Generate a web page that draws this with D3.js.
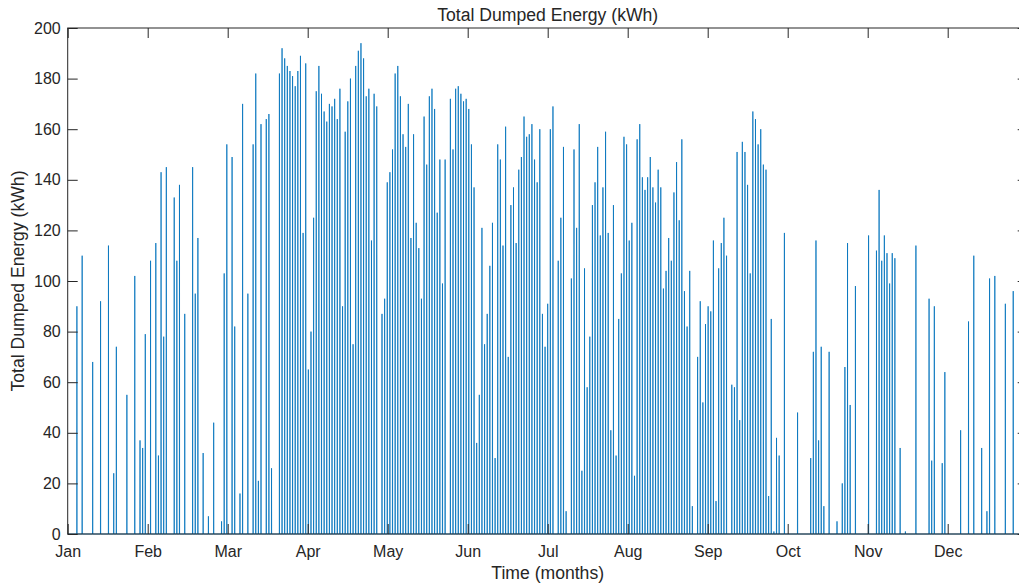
<!DOCTYPE html>
<html>
<head>
<meta charset="utf-8">
<script src="https://cdn.jsdelivr.net/npm/d3@7"></script>
<style>
    body { margin: 0; background: #fff; }
    svg { display: block; font-family: "Liberation Sans", Arial, sans-serif; }
</style>
</head>
<body>
<div id="chart"></div>
<script>
// day of year (0-based) on which energy was dumped, and the peak of that day (kWh)
const dumpDays = [
    3, 5, 9, 12, 15, 17, 18, 22, 25, 27, 28, 29, 31, 33, 34, 35, 36, 37, 40, 41,
    42, 44, 47, 48, 49, 51, 53, 55, 58, 59, 60, 62, 63, 65, 66, 68, 70, 71, 72, 73,
    75, 76, 77, 80, 81, 82, 83, 84, 85, 86, 87, 88, 89, 90, 91, 92, 93, 94, 95, 96,
    97, 98, 99, 100, 101, 102, 103, 104, 105, 106, 107, 108, 109, 110, 111, 112, 113, 114, 115, 116,
    117, 119, 120, 121, 122, 123, 124, 125, 126, 127, 128, 129, 130, 131, 132, 133, 134, 135, 136, 137,
    138, 139, 140, 141, 142, 143, 145, 146, 147, 148, 149, 150, 151, 152, 153, 154, 155, 156, 157, 158,
    159, 160, 161, 162, 163, 164, 165, 166, 167, 168, 169, 170, 171, 172, 173, 174, 175, 176, 177, 178,
    179, 180, 181, 182, 183, 184, 186, 187, 188, 189, 191, 192, 193, 194, 195, 196, 197, 198, 199, 200,
    201, 202, 203, 204, 205, 206, 207, 208, 209, 210, 211, 212, 213, 214, 215, 216, 217, 218, 219, 220,
    221, 222, 223, 224, 225, 226, 227, 228, 229, 230, 231, 232, 233, 234, 235, 236, 237, 239, 240, 241,
    242, 243, 244, 245, 246, 247, 248, 249, 250, 252, 253, 254, 255, 256, 257, 258, 259, 260, 261, 262,
    263, 264, 265, 266, 267, 268, 269, 270, 272, 277, 282, 283, 284, 285, 286, 287, 289, 292, 294, 295,
    296, 297, 299, 304, 307, 308, 309, 310, 311, 312, 313, 314, 316, 318, 322, 327, 328, 329, 332, 333,
    339, 342, 344, 347, 349, 350, 352, 356, 359
];
const dumpPeaks = [
    90, 110, 68, 92, 114, 24, 74, 55, 102, 37, 34, 79, 108, 115, 31, 143, 78, 145, 133, 108,
    138, 87, 145, 95, 117, 32, 7, 44, 5, 103, 154, 149, 82, 16, 170, 95, 154, 182, 21, 162,
    164, 166, 26, 182, 192, 188, 185, 183, 181, 177, 183, 189, 119, 186, 65, 80, 125, 175, 185, 174,
    167, 163, 170, 169, 172, 164, 176, 90, 159, 171, 180, 75, 185, 191, 194, 188, 173, 176, 116, 174,
    169, 87, 93, 139, 143, 152, 182, 185, 173, 158, 153, 170, 117, 158, 123, 113, 93, 165, 146, 173,
    176, 168, 127, 148, 99, 148, 172, 152, 176, 177, 174, 171, 172, 168, 154, 137, 36, 55, 121, 75,
    87, 106, 123, 30, 154, 148, 114, 161, 70, 130, 137, 115, 144, 149, 165, 157, 158, 162, 148, 139,
    160, 87, 74, 91, 160, 169, 108, 125, 153, 9, 101, 152, 121, 162, 25, 105, 58, 78, 130, 139,
    153, 118, 137, 159, 119, 41, 130, 31, 85, 103, 157, 154, 116, 123, 23, 156, 162, 141, 136, 141,
    149, 137, 131, 144, 137, 97, 104, 117, 108, 135, 147, 124, 156, 96, 82, 104, 11, 70, 92, 52,
    83, 90, 88, 116, 13, 105, 115, 125, 110, 59, 58, 151, 45, 155, 151, 138, 103, 167, 164, 154,
    160, 146, 144, 15, 85, 1, 38, 31, 119, 48, 30, 72, 116, 37, 74, 11, 72, 5, 20, 66,
    115, 51, 98, 118, 112, 136, 108, 118, 111, 99, 111, 109, 34, 1, 114, 93, 29, 90, 28, 64,
    41, 84, 110, 34, 9, 101, 102, 91, 96
];
const monthLabels = ['Jan', 'Feb', 'Mar', 'Apr', 'May', 'Jun', 'Jul', 'Aug', 'Sep', 'Oct', 'Nov', 'Dec'];
const yTicks = [0, 20, 40, 60, 80, 100, 120, 140, 160, 180, 200];
const hoursInYear = 8760;

const width = 1019;
const height = 588;
// plot box; the right edge runs just past the page, as in the original figure
const plotLeft = 67.7, plotRight = 1027.7, plotTop = 28, plotBottom = 534;
const ink = '#262626';

const svg = d3.select('#chart')
    .append('svg')
    .attr('width', width)
    .attr('height', height);

const x = d3.scaleLinear().domain([0, hoursInYear]).range([plotLeft, plotRight]);
const y = d3.scaleLinear().domain([0, 200]).range([plotBottom, plotTop]);

// month ticks sit every twelfth of the year
const xTicks = monthLabels.map((m, i) => i * hoursInYear / 12);

// hourly series: zero except a narrow peak around midday of each dump day
const points = [[0, 0]];
dumpDays.forEach((d, i) => {
    const mid = d * 24 + 12;
    points.push([mid - 1, 0], [mid, dumpPeaks[i]], [mid + 1, 0]);
});
points.push([hoursInYear, 0]);

svg.append('path')
    .datum(points)
    .attr('fill', 'none')
    .attr('stroke', '#0072BD')
    .attr('stroke-width', 0.8)
    .attr('d', d3.line().x(p => x(p[0])).y(p => y(p[1])));

// box
svg.append('rect')
    .attr('x', plotLeft).attr('y', plotTop)
    .attr('width', plotRight - plotLeft).attr('height', plotBottom - plotTop)
    .attr('fill', 'none').attr('stroke', ink).attr('stroke-width', 1);

// axes with inward ticks
const yAxis = svg.append('g')
    .attr('transform', `translate(${plotLeft},0)`)
    .call(d3.axisLeft(y).tickValues(yTicks).tickSizeInner(-10).tickSizeOuter(0).tickPadding(7));
const xAxis = svg.append('g')
    .attr('transform', `translate(0,${plotBottom})`)
    .call(d3.axisBottom(x).tickValues(xTicks).tickFormat((d, i) => monthLabels[i])
        .tickSizeInner(-10).tickSizeOuter(0).tickPadding(12));
const xTop = svg.append('g')
    .attr('transform', `translate(0,${plotTop})`)
    .call(d3.axisTop(x).tickValues(xTicks).tickFormat('').tickSizeInner(-10).tickSizeOuter(0));
const yRight = svg.append('g')
    .attr('transform', `translate(${plotRight},0)`)
    .call(d3.axisRight(y).tickValues(yTicks).tickFormat('').tickSizeInner(-10).tickSizeOuter(0));

[yAxis, xAxis, xTop, yRight].forEach(g => {
    g.select('.domain').remove();
    g.selectAll('line').attr('stroke', ink);
    g.selectAll('text')
        .attr('fill', ink)
        .style('font-size', '16px')
        .style('font-family', '"Liberation Sans", Arial, sans-serif');
});

svg.append('text')
    .attr('x', (plotLeft + plotRight) / 2).attr('y', 21)
    .attr('text-anchor', 'middle')
    .attr('fill', ink)
    .style('font-size', '17.6px')
    .text('Total Dumped Energy (kWh)');

svg.append('text')
    .attr('x', (plotLeft + plotRight) / 2).attr('y', 579)
    .attr('text-anchor', 'middle')
    .attr('fill', ink)
    .style('font-size', '17.6px')
    .text('Time (months)');

svg.append('text')
    .attr('transform', `translate(24,${(plotTop + plotBottom) / 2}) rotate(-90)`)
    .attr('text-anchor', 'middle')
    .attr('fill', ink)
    .style('font-size', '17.6px')
    .text('Total Dumped Energy (kWh)');
</script>
</body>
</html>
